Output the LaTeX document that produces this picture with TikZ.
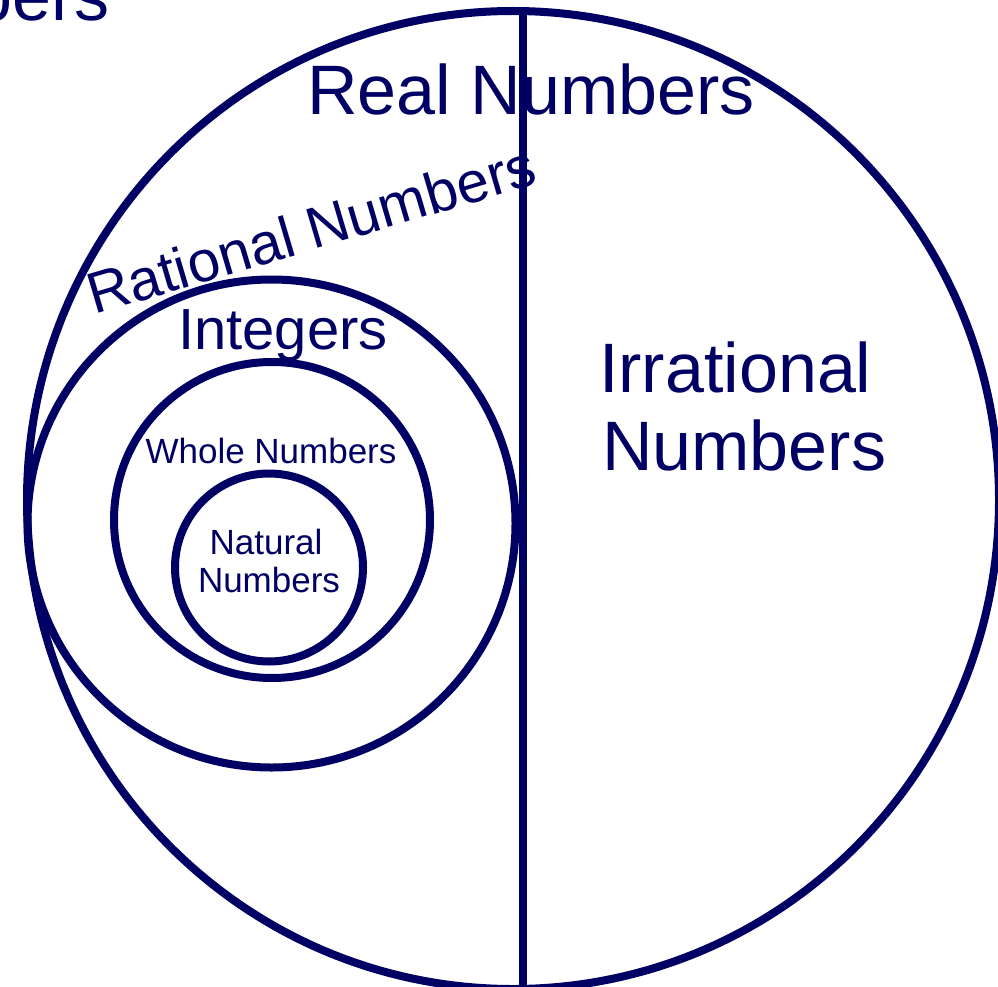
\documentclass[tikz,border=0pt]{standalone}
\usepackage{fontspec}
\setmainfont{Liberation Sans}
\definecolor{setnavy}{RGB}{0,0,100}
\tikzset{
  setline/.style={draw=setnavy, line width=8pt},
  lbl/.style={text=setnavy, inner sep=0pt, anchor=base},
  big/.style={font=\fontsize{70pt}{78pt}\selectfont},
  mid/.style={font=\fontsize{58pt}{66pt}\selectfont},
  small/.style={font=\fontsize{35pt}{38pt}\selectfont},
}
\begin{document}
\begin{tikzpicture}[x=1pt,y=-1pt]
\useasboundingbox (0,0) rectangle (998,987);
\clip (0,0) rectangle (998,987);
\fill[white] (0,0) rectangle (998,987);
% sets
\draw[setline] (513,500) ellipse [x radius=486pt, y radius=489pt];
\draw[setline] (271.5,523.5) circle [radius=244pt];
\draw[setline] (272,520) circle [radius=158pt];
\draw[setline] (269,567.5) circle [radius=94pt];
% divider between rational and irrational
\coordinate (divtop) at (523,11);
\coordinate (divbot) at (523,1000);
\draw[setline] (divtop) -- (divbot);
% labels
\node[lbl,big,anchor=base east] (cut) at (110,21) {Numbers};
\node[lbl,big] (real) at (531,115) {Real Numbers};
\node[lbl,mid,rotate=16.5] (rational) at (317,249) {Rational Numbers};
\node[lbl,mid] (integers) at (283,349) {Integers};
\node[lbl,small] (whole) at (271,463) {Whole Numbers};
\node[lbl,small] (natural1) at (266,554) {Natural};
\node[lbl,small] (natural2) at (269,592) {Numbers};
\node[lbl,big,anchor=base west] (irr1) at (599,392) {Irrational};
\node[lbl,big,anchor=base west] (irr2) at (602,470) {Numbers};
\end{tikzpicture}
\end{document}
